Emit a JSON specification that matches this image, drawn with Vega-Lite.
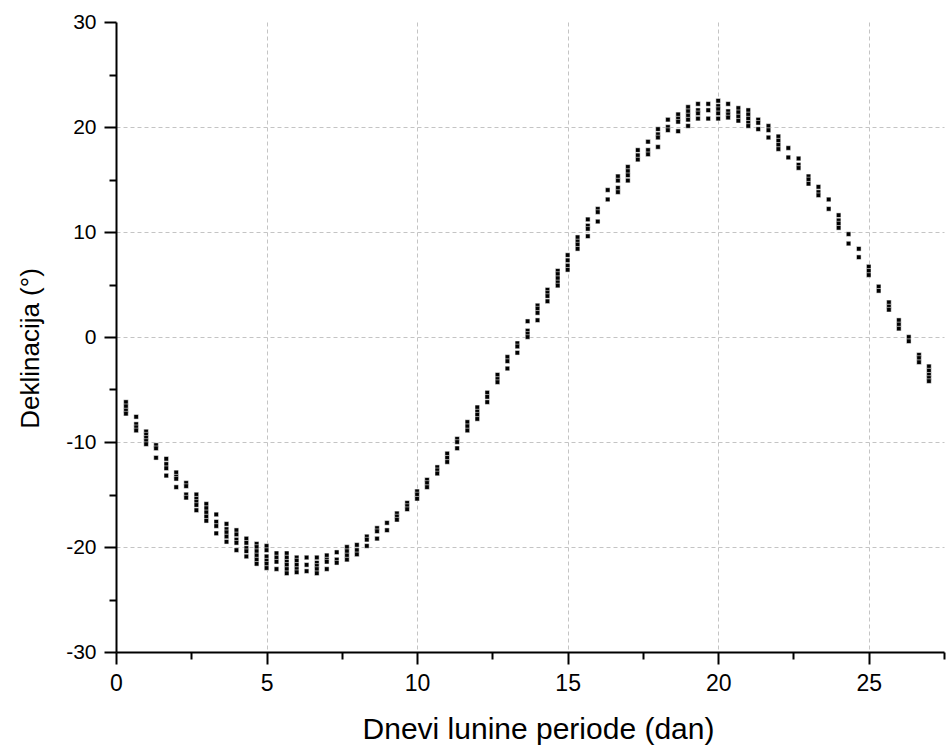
{
  "$schema": "https://vega.github.io/schema/vega-lite/v6.json",
  "autosize": "none",
  "width": 828,
  "height": 630,
  "padding": {"left": 116, "top": 22, "right": 5, "bottom": 93},
  "background": "white",
  "config": {"view": {"stroke": null}, "font": "Liberation Sans"},
  "data": {"values": [
    {"d":0.33,"y":-6.2},{"d":0.33,"y":-6.6},{"d":0.33,"y":-7.0},{"d":0.33,"y":-7.3},
    {"d":0.67,"y":-7.6},{"d":0.67,"y":-8.3},{"d":0.67,"y":-8.6},{"d":0.67,"y":-8.9},
    {"d":1.0,"y":-9.0},{"d":1.0,"y":-9.3},{"d":1.0,"y":-9.6},{"d":1.0,"y":-9.9},{"d":1.0,"y":-10.2},
    {"d":1.33,"y":-10.3},{"d":1.33,"y":-10.6},{"d":1.33,"y":-11.5},
    {"d":1.67,"y":-11.6},{"d":1.67,"y":-12.1},{"d":1.67,"y":-12.5},{"d":1.67,"y":-13.2},
    {"d":2.0,"y":-12.9},{"d":2.0,"y":-13.3},{"d":2.0,"y":-13.5},{"d":2.0,"y":-14.3},
    {"d":2.33,"y":-13.9},{"d":2.33,"y":-14.2},{"d":2.33,"y":-15.0},{"d":2.33,"y":-15.3},
    {"d":2.67,"y":-15.0},{"d":2.67,"y":-15.4},{"d":2.67,"y":-15.7},{"d":2.67,"y":-16.0},{"d":2.67,"y":-16.5},
    {"d":3.0,"y":-15.9},{"d":3.0,"y":-16.3},{"d":3.0,"y":-16.7},{"d":3.0,"y":-17.1},{"d":3.0,"y":-17.5},
    {"d":3.33,"y":-16.9},{"d":3.33,"y":-17.6},{"d":3.33,"y":-18.0},{"d":3.33,"y":-18.7},
    {"d":3.67,"y":-17.8},{"d":3.67,"y":-18.3},{"d":3.67,"y":-18.6},{"d":3.67,"y":-19.0},{"d":3.67,"y":-19.5},
    {"d":4.0,"y":-18.4},{"d":4.0,"y":-18.8},{"d":4.0,"y":-19.3},{"d":4.0,"y":-19.6},{"d":4.0,"y":-20.3},
    {"d":4.33,"y":-19.2},{"d":4.33,"y":-19.6},{"d":4.33,"y":-20.1},{"d":4.33,"y":-20.4},{"d":4.33,"y":-20.9},
    {"d":4.67,"y":-19.7},{"d":4.67,"y":-20.0},{"d":4.67,"y":-20.4},{"d":4.67,"y":-20.8},{"d":4.67,"y":-21.2},{"d":4.67,"y":-21.6},
    {"d":5.0,"y":-19.9},{"d":5.0,"y":-20.3},{"d":5.0,"y":-20.9},{"d":5.0,"y":-21.3},{"d":5.0,"y":-21.6},{"d":5.0,"y":-22.0},
    {"d":5.33,"y":-20.6},{"d":5.33,"y":-21.0},{"d":5.33,"y":-21.4},{"d":5.33,"y":-22.1},
    {"d":5.67,"y":-20.6},{"d":5.67,"y":-21.0},{"d":5.67,"y":-21.4},{"d":5.67,"y":-21.7},{"d":5.67,"y":-22.1},{"d":5.67,"y":-22.5},
    {"d":6.0,"y":-21.0},{"d":6.0,"y":-21.3},{"d":6.0,"y":-21.7},{"d":6.0,"y":-22.1},{"d":6.0,"y":-22.4},
    {"d":6.33,"y":-21.0},{"d":6.33,"y":-21.7},{"d":6.33,"y":-22.3},
    {"d":6.67,"y":-21.0},{"d":6.67,"y":-21.5},{"d":6.67,"y":-21.8},{"d":6.67,"y":-22.1},{"d":6.67,"y":-22.5},
    {"d":7.0,"y":-20.8},{"d":7.0,"y":-21.2},{"d":7.0,"y":-21.4},{"d":7.0,"y":-22.1},
    {"d":7.33,"y":-20.5},{"d":7.33,"y":-21.2},{"d":7.33,"y":-21.5},
    {"d":7.67,"y":-20.0},{"d":7.67,"y":-20.4},{"d":7.67,"y":-20.8},{"d":7.67,"y":-21.2},
    {"d":8.0,"y":-19.8},{"d":8.0,"y":-20.3},{"d":8.0,"y":-20.7},
    {"d":8.33,"y":-19.0},{"d":8.33,"y":-19.3},{"d":8.33,"y":-19.9},
    {"d":8.67,"y":-18.2},{"d":8.67,"y":-18.5},{"d":8.67,"y":-19.2},
    {"d":9.0,"y":-17.7},{"d":9.0,"y":-18.4},
    {"d":9.33,"y":-16.8},{"d":9.33,"y":-17.1},{"d":9.33,"y":-17.4},
    {"d":9.67,"y":-15.8},{"d":9.67,"y":-16.1},{"d":9.67,"y":-16.4},
    {"d":10.0,"y":-14.7},{"d":10.0,"y":-15.0},{"d":10.0,"y":-15.4},
    {"d":10.33,"y":-13.6},{"d":10.33,"y":-13.9},{"d":10.33,"y":-14.3},
    {"d":10.67,"y":-12.4},{"d":10.67,"y":-12.7},{"d":10.67,"y":-13.0},
    {"d":11.0,"y":-11.1},{"d":11.0,"y":-11.5},{"d":11.0,"y":-11.9},
    {"d":11.33,"y":-9.7},{"d":11.33,"y":-10.0},{"d":11.33,"y":-10.6},
    {"d":11.67,"y":-8.1},{"d":11.67,"y":-8.5},{"d":11.67,"y":-8.9},
    {"d":12.0,"y":-6.7},{"d":12.0,"y":-7.1},{"d":12.0,"y":-7.4},{"d":12.0,"y":-7.8},
    {"d":12.33,"y":-5.3},{"d":12.33,"y":-5.7},{"d":12.33,"y":-6.2},
    {"d":12.67,"y":-3.6},{"d":12.67,"y":-4.0},{"d":12.67,"y":-4.3},
    {"d":13.0,"y":-1.9},{"d":13.0,"y":-2.3},{"d":13.0,"y":-3.0},
    {"d":13.33,"y":-0.6},{"d":13.33,"y":-0.9},{"d":13.33,"y":-1.5},
    {"d":13.67,"y":1.5},{"d":13.67,"y":0.6},{"d":13.67,"y":0.3},{"d":13.67,"y":0.0},
    {"d":14.0,"y":3.0},{"d":14.0,"y":2.7},{"d":14.0,"y":2.3},{"d":14.0,"y":1.6},
    {"d":14.33,"y":4.5},{"d":14.33,"y":4.2},{"d":14.33,"y":3.9},{"d":14.33,"y":3.4},
    {"d":14.67,"y":6.3},{"d":14.67,"y":6.0},{"d":14.67,"y":5.6},{"d":14.67,"y":5.2},{"d":14.67,"y":4.9},
    {"d":15.0,"y":7.8},{"d":15.0,"y":7.3},{"d":15.0,"y":6.8},{"d":15.0,"y":6.4},
    {"d":15.33,"y":9.5},{"d":15.33,"y":9.1},{"d":15.33,"y":8.8},{"d":15.33,"y":8.4},
    {"d":15.67,"y":11.2},{"d":15.67,"y":10.6},{"d":15.67,"y":10.3},{"d":15.67,"y":9.6},
    {"d":16.0,"y":12.2},{"d":16.0,"y":11.9},{"d":16.0,"y":11.0},
    {"d":16.33,"y":14.0},{"d":16.33,"y":13.1},
    {"d":16.67,"y":15.3},{"d":16.67,"y":14.9},{"d":16.67,"y":14.2},{"d":16.67,"y":13.8},
    {"d":17.0,"y":16.2},{"d":17.0,"y":15.8},{"d":17.0,"y":15.4},{"d":17.0,"y":14.9},
    {"d":17.33,"y":17.8},{"d":17.33,"y":17.3},{"d":17.33,"y":16.9},
    {"d":17.67,"y":18.6},{"d":17.67,"y":17.8},{"d":17.67,"y":17.4},
    {"d":18.0,"y":19.8},{"d":18.0,"y":19.3},{"d":18.0,"y":19.0},{"d":18.0,"y":18.1},
    {"d":18.33,"y":20.7},{"d":18.33,"y":20.0},{"d":18.33,"y":19.7},
    {"d":18.67,"y":21.2},{"d":18.67,"y":20.8},{"d":18.67,"y":20.5},{"d":18.67,"y":19.6},
    {"d":19.0,"y":21.9},{"d":19.0,"y":21.5},{"d":19.0,"y":21.1},{"d":19.0,"y":20.7},{"d":19.0,"y":20.1},
    {"d":19.33,"y":22.2},{"d":19.33,"y":21.6},{"d":19.33,"y":21.3},{"d":19.33,"y":20.8},
    {"d":19.67,"y":22.2},{"d":19.67,"y":21.6},{"d":19.67,"y":20.8},
    {"d":20.0,"y":22.5},{"d":20.0,"y":22.0},{"d":20.0,"y":21.7},{"d":20.0,"y":21.3},{"d":20.0,"y":20.8},
    {"d":20.33,"y":22.2},{"d":20.33,"y":21.5},{"d":20.33,"y":21.2},{"d":20.33,"y":20.9},
    {"d":20.67,"y":21.8},{"d":20.67,"y":21.4},{"d":20.67,"y":21.0},{"d":20.67,"y":20.6},
    {"d":21.0,"y":21.6},{"d":21.0,"y":21.2},{"d":21.0,"y":20.8},{"d":21.0,"y":20.4},{"d":21.0,"y":20.1},
    {"d":21.33,"y":20.7},{"d":21.33,"y":20.4},{"d":21.33,"y":19.8},
    {"d":21.67,"y":20.1},{"d":21.67,"y":19.7},{"d":21.67,"y":19.0},
    {"d":22.0,"y":19.1},{"d":22.0,"y":18.7},{"d":22.0,"y":18.3},{"d":22.0,"y":17.9},
    {"d":22.33,"y":18.0},{"d":22.33,"y":17.1},
    {"d":22.67,"y":17.0},{"d":22.67,"y":16.4},{"d":22.67,"y":16.1},
    {"d":23.0,"y":15.3},{"d":23.0,"y":15.0},{"d":23.0,"y":14.6},
    {"d":23.33,"y":14.3},{"d":23.33,"y":13.8},{"d":23.33,"y":13.5},
    {"d":23.67,"y":13.1},{"d":23.67,"y":12.2},
    {"d":24.0,"y":11.6},{"d":24.0,"y":11.1},{"d":24.0,"y":10.8},{"d":24.0,"y":10.4},
    {"d":24.33,"y":9.8},{"d":24.33,"y":8.9},
    {"d":24.67,"y":8.4},{"d":24.67,"y":7.6},
    {"d":25.0,"y":6.7},{"d":25.0,"y":6.3},{"d":25.0,"y":5.9},
    {"d":25.33,"y":4.8},{"d":25.33,"y":4.4},
    {"d":25.67,"y":3.3},{"d":25.67,"y":2.9},{"d":25.67,"y":2.6},
    {"d":26.0,"y":1.6},{"d":26.0,"y":1.2},{"d":26.0,"y":0.8},
    {"d":26.33,"y":0.0},{"d":26.33,"y":-0.4},
    {"d":26.67,"y":-1.7},{"d":26.67,"y":-2.0},{"d":26.67,"y":-2.4},
    {"d":27.0,"y":-2.8},{"d":27.0,"y":-3.2},{"d":27.0,"y":-3.6},{"d":27.0,"y":-3.9},{"d":27.0,"y":-4.2}
  ]},
  "mark": {"type": "point", "shape": "square", "filled": true, "fill": "black", "stroke": "white", "strokeWidth": 0.5, "size": 21, "opacity": 1},
  "encoding": {
    "x": {
      "field": "d", "type": "quantitative",
      "scale": {"domain": [0, 27.5], "nice": false, "zero": false},
      "axis": {
        "title": "Dnevi lunine periode (dan)",
        "values": [0, 2.5, 5, 7.5, 10, 12.5, 15, 17.5, 20, 22.5, 25, 27.5],
        "labelExpr": "datum.value % 5 === 0 ? '' + datum.value : ''",
        "labelFont": "Liberation Sans", "labelFontSize": 23, "labelColor": "black",
        "labelPadding": 8, "labelFlush": false, "labelOverlap": false,
        "domainColor": "black", "domainWidth": 2,
        "tickColor": "black", "tickWidth": 2,
        "tickSize": {"condition": {"test": "datum.value % 5 === 0", "value": 12}, "value": 7},
        "grid": true, "gridColor": "#c4c4c4", "gridDash": [4, 3], "gridWidth": 1,
        "gridOpacity": {"condition": {"test": "datum.value % 5 === 0 && datum.value > 0", "value": 1}, "value": 0},
        "titleFont": "Liberation Sans", "titleFontSize": 30, "titleFontWeight": "normal", "titleColor": "black",
        "titleBaseline": "alphabetic", "titleAlign": "center", "titleX": 422, "titleY": 86
      }
    },
    "y": {
      "field": "y", "type": "quantitative",
      "scale": {"domain": [-30, 30], "nice": false, "zero": false},
      "axis": {
        "title": "Deklinacija (°)",
        "values": [-30, -25, -20, -15, -10, -5, 0, 5, 10, 15, 20, 25, 30],
        "labelExpr": "datum.value % 10 === 0 ? '' + datum.value : ''",
        "labelFont": "Liberation Sans", "labelFontSize": 21, "labelColor": "black",
        "labelPadding": 8, "labelFlush": false, "labelOverlap": false,
        "domainColor": "black", "domainWidth": 2,
        "tickColor": "black", "tickWidth": 2,
        "tickSize": {"condition": {"test": "datum.value % 10 === 0", "value": 12}, "value": 7},
        "grid": true, "gridColor": "#c4c4c4", "gridDash": [4, 3], "gridWidth": 1,
        "gridOpacity": {"condition": {"test": "datum.value % 10 === 0 && abs(datum.value) < 30", "value": 1}, "value": 0},
        "titleFont": "Liberation Sans", "titleFontSize": 26, "titleFontWeight": "normal", "titleColor": "black",
        "titleBaseline": "alphabetic", "titleAlign": "center", "titleAngle": -90, "titleX": -78, "titleY": 326
      }
    }
  }
}
